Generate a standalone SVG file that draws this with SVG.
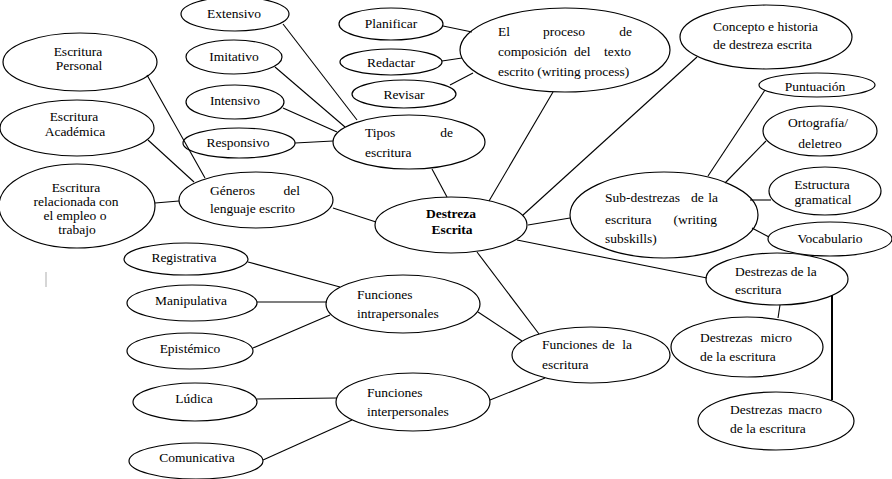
<svg xmlns="http://www.w3.org/2000/svg" width="892" height="479" viewBox="0 0 892 479" font-family="Liberation Serif, DejaVu Serif, serif">
<style>
.n ellipse{fill:#fff;stroke:#000;stroke-width:1.2}
text{font-family:'Liberation Serif','DejaVu Serif',serif;font-size:13.5px;fill:#000}
.m{text-anchor:middle}
.e{text-anchor:end}
.b{font-weight:bold}
.c line{stroke:#000;stroke-width:1.1}
</style>
<rect width="892" height="479" fill="#fff"/>
<g id="n-extensivo" class="n"><ellipse cx="235" cy="14" rx="54" ry="17"/><text class="m" x="234" y="18">Extensivo</text></g>
<g id="n-imitativo" class="n"><ellipse cx="234" cy="57" rx="48" ry="17"/><text class="m" x="234" y="61">Imitativo</text></g>
<g id="n-intensivo" class="n"><ellipse cx="235" cy="102" rx="49" ry="17"/><text class="m" x="235" y="105">Intensivo</text></g>
<g id="n-responsivo" class="n"><ellipse cx="239" cy="143" rx="56" ry="15"/><text class="m" x="238" y="147">Responsivo</text></g>
<g id="n-personal" class="n"><ellipse cx="80" cy="62" rx="77" ry="29"/><text class="m" x="78" y="56">Escritura</text><text class="m" x="79" y="70">Personal</text></g>
<g id="n-academica" class="n"><ellipse cx="77" cy="128" rx="77" ry="28"/><text class="m" x="74" y="121">Escritura</text><text class="m" x="75" y="136">Académica</text></g>
<g id="n-empleo" class="n"><ellipse cx="77" cy="206" rx="78" ry="42"/><text class="m" x="76" y="192">Escritura</text><text class="m" x="76" y="206">relacionada con</text><text class="m" x="75" y="220">el empleo o</text><text class="m" x="77" y="234">trabajo</text></g>
<g id="n-generos" class="n"><ellipse cx="256" cy="200" rx="77" ry="28"/><text x="210" y="195">Géneros</text><text class="e" x="300" y="195">del</text><text x="210" y="213">lenguaje escrito</text></g>
<g id="n-tipos" class="n"><ellipse cx="409" cy="142" rx="76" ry="27"/><text x="365" y="137">Tipos</text><text class="e" x="453" y="137">de</text><text x="365" y="157">escritura</text></g>
<g id="n-planificar" class="n"><ellipse cx="391" cy="24" rx="52" ry="16"/><text class="m" x="391" y="28">Planificar</text></g>
<g id="n-redactar" class="n"><ellipse cx="391" cy="62" rx="51" ry="13"/><text class="m" x="391" y="67">Redactar</text></g>
<g id="n-revisar" class="n"><ellipse cx="404" cy="94" rx="52" ry="14"/><text class="m" x="404" y="99">Revisar</text></g>
<g id="n-proceso" class="n"><ellipse cx="565" cy="50" rx="105" ry="42"/><text x="498" y="36">El</text><text x="543" y="36">proceso</text><text class="e" x="632" y="36">de</text><text x="498" y="56">composición</text><text x="574" y="56">del</text><text class="e" x="631" y="56">texto</text><text x="498" y="76">escrito (writing process)</text></g>
<g id="n-concepto" class="n"><ellipse cx="766" cy="37" rx="86" ry="32"/><text x="713" y="31">Concepto e historia</text><text x="713" y="49">de destreza escrita</text></g>
<g id="n-puntuacion" class="n"><ellipse cx="817" cy="85" rx="58" ry="12"/><text class="m" x="815" y="91">Puntuación</text></g>
<g id="n-ortografia" class="n"><ellipse cx="820" cy="131" rx="57" ry="25"/><text class="m" x="818" y="127">Ortografía/</text><text class="m" x="820" y="148">deletreo</text></g>
<g id="n-estructura" class="n"><ellipse cx="825" cy="191" rx="56" ry="24"/><text class="m" x="822" y="189">Estructura</text><text class="m" x="823" y="204">gramatical</text></g>
<g id="n-vocabulario" class="n"><ellipse cx="830" cy="239" rx="62" ry="17"/><text class="m" x="830" y="243">Vocabulario</text></g>
<g id="n-subdestrezas" class="n"><ellipse cx="664" cy="215" rx="94" ry="43"/><text x="605" y="202">Sub-destrezas</text><text x="691" y="202">de</text><text class="e" x="718" y="202">la</text><text x="605" y="224">escritura</text><text class="e" x="717" y="224">(writing</text><text x="605" y="243">subskills)</text></g>
<g id="n-destreza" class="n"><ellipse cx="451" cy="225" rx="76" ry="28"/><text class="m b" x="451" y="218">Destreza</text><text class="m b" x="452" y="234">Escrita</text></g>
<g id="n-intra" class="n"><ellipse cx="403" cy="304" rx="77" ry="29"/><text x="357" y="299">Funciones</text><text x="357" y="318">intrapersonales</text></g>
<g id="n-funciones" class="n"><ellipse cx="591" cy="355" rx="79" ry="28"/><text x="542" y="349">Funciones</text><text x="602" y="349">de</text><text class="e" x="632" y="349">la</text><text x="542" y="369">escritura</text></g>
<g id="n-inter" class="n"><ellipse cx="413" cy="402" rx="77" ry="29"/><text x="367" y="397">Funciones</text><text x="367" y="416">interpersonales</text></g>
<g id="n-registrativa" class="n"><ellipse cx="186" cy="259" rx="62" ry="16"/><text class="m" x="184" y="262">Registrativa</text></g>
<g id="n-manipulativa" class="n"><ellipse cx="192" cy="303" rx="65" ry="18"/><text class="m" x="191" y="305">Manipulativa</text></g>
<g id="n-epistemico" class="n"><ellipse cx="190" cy="351" rx="63" ry="18"/><text class="m" x="190" y="353">Epistémico</text></g>
<g id="n-ludica" class="n"><ellipse cx="195" cy="402" rx="62" ry="19"/><text class="m" x="194" y="403">Lúdica</text></g>
<g id="n-comunicativa" class="n"><ellipse cx="196" cy="461" rx="67" ry="18"/><text class="m" x="197" y="462">Comunicativa</text></g>
<g id="n-destrezas" class="n"><ellipse cx="777" cy="279" rx="71" ry="26"/><text x="735" y="276">Destrezas de la</text><text x="735" y="294">escritura</text></g>
<g id="n-micro" class="n"><ellipse cx="747" cy="347" rx="76" ry="30"/><text x="700" y="342">Destrezas</text><text class="e" x="792" y="342">micro</text><text x="700" y="361">de la escritura</text></g>
<g id="n-macro" class="n"><ellipse cx="776" cy="421" rx="78" ry="29"/><text x="730" y="414">Destrezas</text><text class="e" x="822" y="414">macro</text><text x="730" y="433">de la escritura</text></g>
<g id="connectors" class="c">
<line x1="283" y1="24" x2="357" y2="120"/>
<line x1="275" y1="67" x2="345" y2="127"/>
<line x1="283" y1="108" x2="337" y2="132"/>
<line x1="295" y1="143" x2="333" y2="141"/>
<line x1="147" y1="75" x2="205" y2="178"/>
<line x1="148" y1="140" x2="194" y2="182"/>
<line x1="155" y1="203" x2="179" y2="201"/>
<line x1="333" y1="208" x2="376" y2="222"/>
<line x1="432" y1="169" x2="447" y2="197"/>
<line x1="443" y1="26" x2="472" y2="32"/>
<line x1="442" y1="61" x2="462" y2="58"/>
<line x1="450" y1="85" x2="473" y2="73"/>
<line x1="553" y1="92" x2="489" y2="201"/>
<line x1="697" y1="57" x2="523" y2="215"/>
<line x1="570" y1="218" x2="528" y2="225"/>
<line x1="517" y1="240" x2="707" y2="278"/>
<line x1="477" y1="252" x2="539" y2="334"/>
<line x1="478" y1="312" x2="522" y2="341"/>
<line x1="490" y1="400" x2="545" y2="378"/>
<line x1="248" y1="262" x2="340" y2="287"/>
<line x1="257" y1="302" x2="327" y2="302"/>
<line x1="253" y1="348" x2="330" y2="315"/>
<line x1="257" y1="399" x2="337" y2="398"/>
<line x1="263" y1="460" x2="352" y2="420"/>
<line x1="708" y1="176" x2="765" y2="90"/>
<line x1="725" y1="183" x2="766" y2="141"/>
<line x1="750" y1="200" x2="771" y2="200"/>
<line x1="752" y1="228" x2="769" y2="237"/>
<line x1="780" y1="305" x2="778" y2="318"/>
<line x1="832" y1="295" x2="832" y2="400" style="stroke-width:2"/>
</g>
<line x1="46" y1="272" x2="46" y2="287" stroke="#c8c8c8" stroke-width="1.5"/>
</svg>
